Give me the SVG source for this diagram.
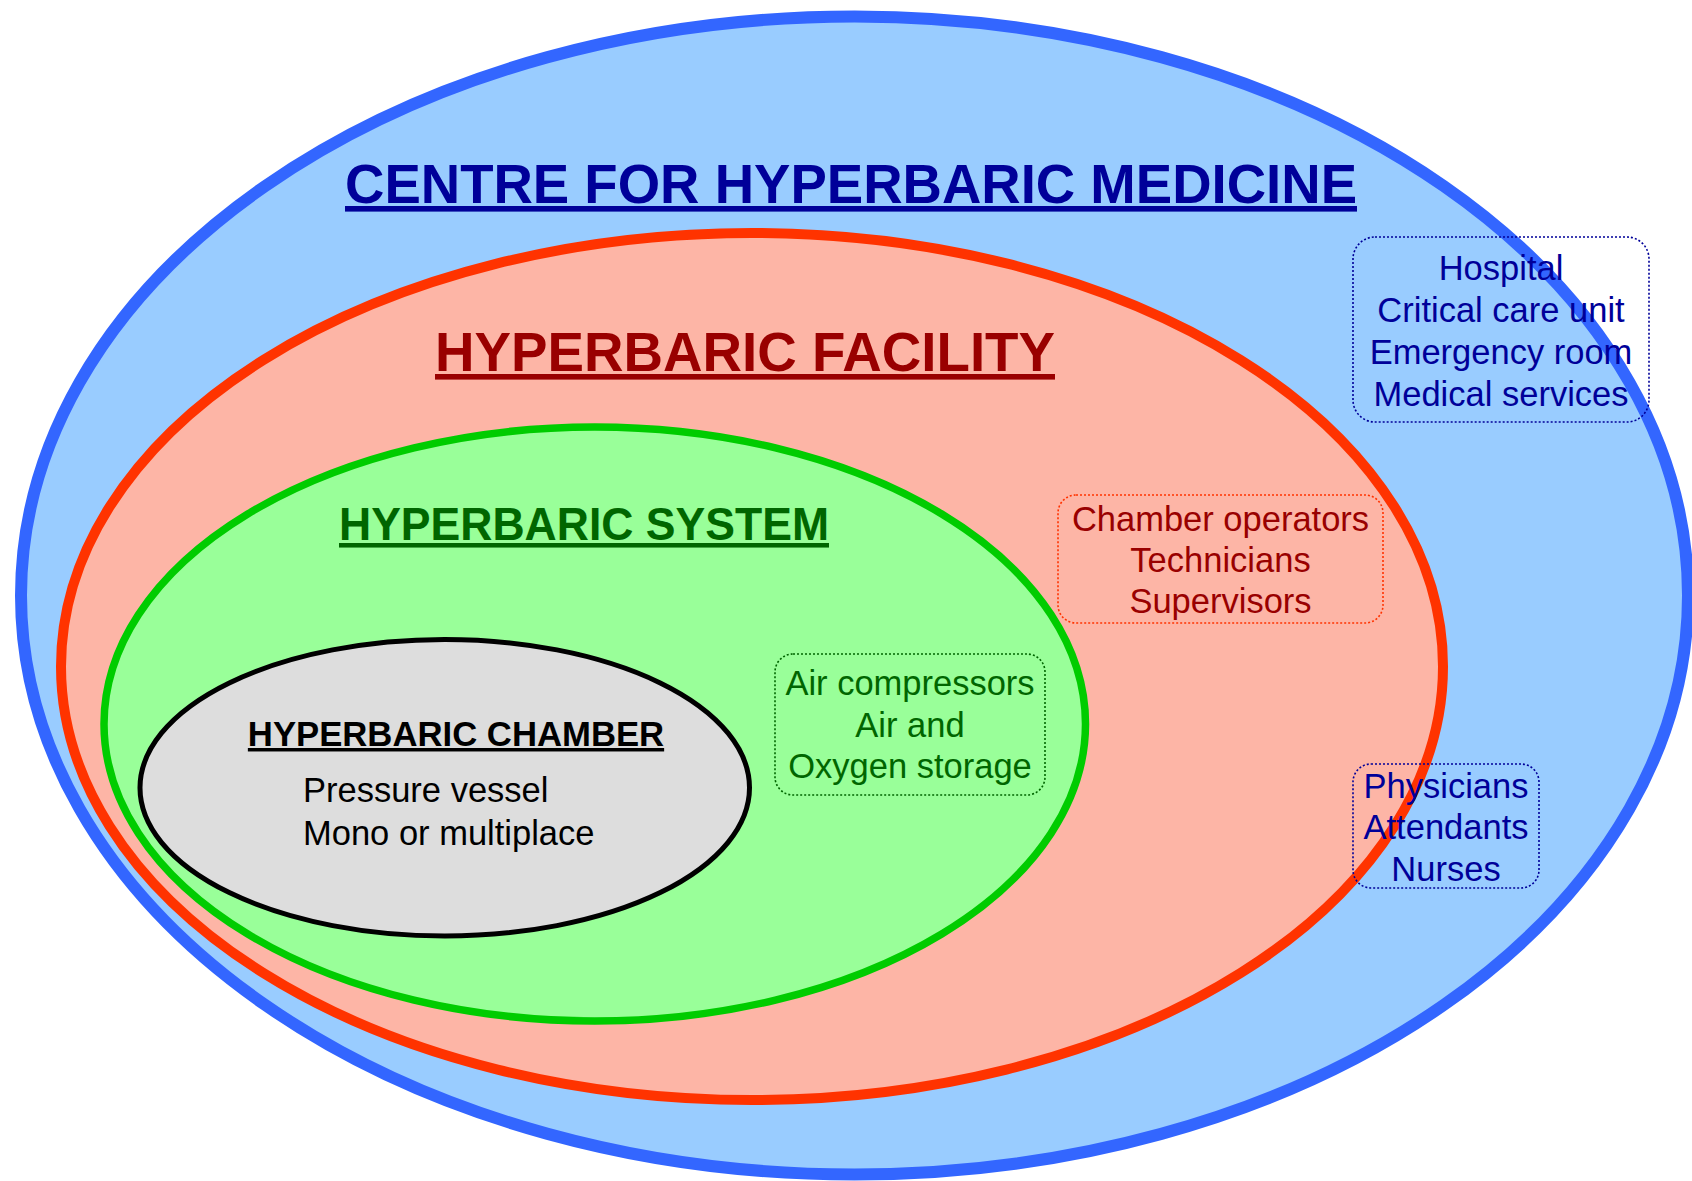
<svg xmlns="http://www.w3.org/2000/svg" width="1692" height="1181" viewBox="0 0 1692 1181">
<style>
text{font-family:"Liberation Sans",Arial,sans-serif;}
.title{font-weight:bold;text-anchor:middle;text-decoration:underline;}
.body{font-size:34.5px;}
.mid{text-anchor:middle;}
.box{fill:none;stroke-width:1.6;stroke-dasharray:2 2;}
.blueT{fill:#000099;}
.redT{fill:#990000;}
.greenT{fill:#006600;}
</style>
<rect width="1692" height="1181" fill="#ffffff"/>
<g id="centre">
<ellipse cx="854.5" cy="595.5" rx="833.5" ry="579" fill="#99ccff" stroke="#3366ff" stroke-width="12"/>
<text class="title blueT" x="851" y="203" font-size="56" textLength="1012" lengthAdjust="spacingAndGlyphs">CENTRE FOR HYPERBARIC MEDICINE</text>
</g>
<g id="facility">
<ellipse cx="752" cy="666.5" rx="691" ry="433.5" fill="#fdb5a6" stroke="#ff3300" stroke-width="10"/>
<text class="title redT" x="745" y="371" font-size="56" textLength="620" lengthAdjust="spacingAndGlyphs">HYPERBARIC FACILITY</text>
</g>
<g id="system">
<ellipse cx="594.75" cy="724" rx="490.75" ry="297" fill="#99ff99" stroke="#00cc00" stroke-width="7.5"/>
<text class="title greenT" x="584" y="540" font-size="45.5" textLength="490" lengthAdjust="spacingAndGlyphs">HYPERBARIC SYSTEM</text>
</g>
<g id="chamber">
<ellipse cx="444.75" cy="787.75" rx="304.75" ry="148.25" fill="#dddddd" stroke="#000000" stroke-width="5"/>
<text class="title" x="456" y="746" font-size="34.7" fill="#000000">HYPERBARIC CHAMBER</text>
<text class="body" x="303" y="802" fill="#000000">Pressure vessel</text>
<text class="body" x="303" y="845" fill="#000000">Mono or multiplace</text>
</g>
<g id="hospital-box">
<rect class="box" x="1353" y="237" width="296" height="185" rx="22" stroke="#000099"/>
<text class="body mid blueT" x="1501" y="280">Hospital</text>
<text class="body mid blueT" x="1501" y="322">Critical care unit</text>
<text class="body mid blueT" x="1501" y="364">Emergency room</text>
<text class="body mid blueT" x="1501" y="406">Medical services</text>
</g>
<g id="staff-box">
<rect class="box" x="1058" y="495" width="325" height="128" rx="18" stroke="#ff3300"/>
<text class="body mid redT" x="1220.5" y="531">Chamber operators</text>
<text class="body mid redT" x="1220.5" y="572">Technicians</text>
<text class="body mid redT" x="1220.5" y="613">Supervisors</text>
</g>
<g id="air-box">
<rect class="box" x="775" y="654" width="270" height="141" rx="18" stroke="#006600"/>
<text class="body mid greenT" x="910" y="695">Air compressors</text>
<text class="body mid greenT" x="910" y="737">Air and</text>
<text class="body mid greenT" x="910" y="778">Oxygen storage</text>
</g>
<g id="medical-staff-box">
<rect class="box" x="1353" y="764" width="186" height="124" rx="18" stroke="#000099"/>
<text class="body mid blueT" x="1446" y="798">Physicians</text>
<text class="body mid blueT" x="1446" y="839">Attendants</text>
<text class="body mid blueT" x="1446" y="881">Nurses</text>
</g>
<g id="connectors"/>
</svg>
